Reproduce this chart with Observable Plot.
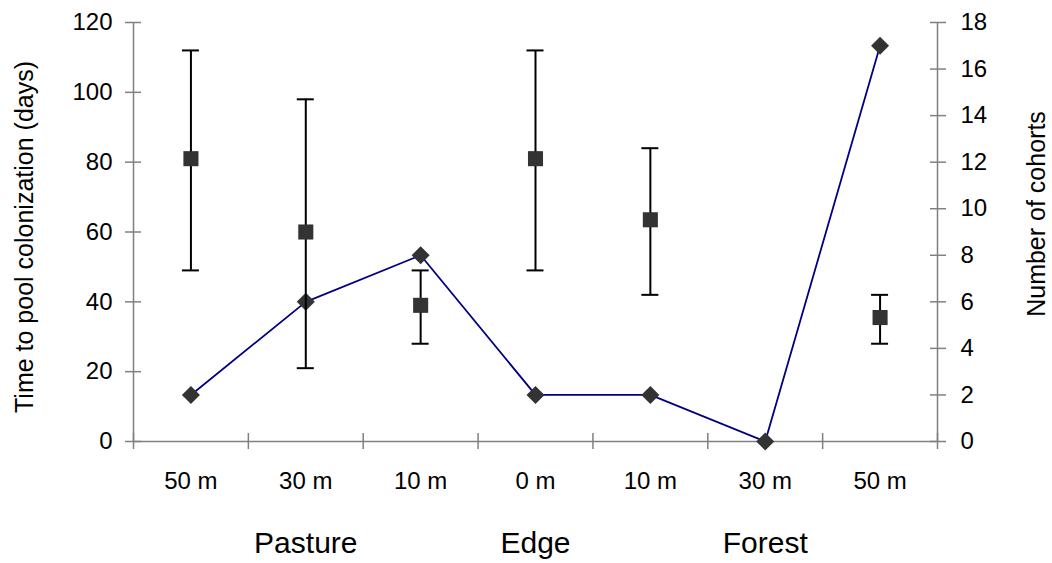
<!DOCTYPE html>
<html>
<head>
<meta charset="utf-8">
<script src="https://cdn.jsdelivr.net/npm/d3@7"></script>
<script src="https://cdn.jsdelivr.net/npm/@observablehq/plot@0.6"></script>
<style>
  body { margin: 0; background: #fff; }
</style>
</head>
<body>
<div id="chart"></div>
<script>
// Distance classes along the pasture–edge–forest transect
const distances = ["50 m", "30 m", "10 m", "0 m", "10 m", "30 m", "50 m"];
const habitats = ["Pasture", "Pasture", "Pasture", "Edge", "Forest", "Forest", "Forest"];

// Time to pool colonization (days): mean with lower / upper bars (none at forest 30 m)
const colonizationDays = [81, 60, 39, 81, 63.5, null, 35.5];
const daysLow = [49, 21, 28, 49, 42, null, 28];
const daysHigh = [112, 98, 49, 112, 84, null, 42];

// Number of cohorts (right axis)
const cohorts = [2, 6, 8, 2, 2, 0, 17];

// Habitat labels under the distance labels, centred on a distance class
const groupLabels = ["Pasture", "Edge", "Forest"];
const groupAt = [1, 3, 5];

const daysTicks = [0, 20, 40, 60, 80, 100, 120];
const cohortTicks = [0, 2, 4, 6, 8, 10, 12, 14, 16, 18];

// Cohorts share the vertical scale with days: 18 cohorts ↔ 120 days
const k = 120 / 18;

const rows = distances.map((d, i) => ({
  pos: i + 0.5,
  dist: d,
  habitat: habitats[i],
  days: colonizationDays[i],
  lo: daysLow[i],
  hi: daysHigh[i],
  cohortY: cohorts[i] * k
}));
const withDays = rows.filter(r => r.days != null);

const axisGray = "#808080";
const font = "'Liberation Sans', Arial, Helvetica, sans-serif";

const chart = Plot.plot({
  width: 1052,
  height: 563,
  marginLeft: 133,
  marginRight: 115,
  marginTop: 22,
  marginBottom: 122,
  style: { fontFamily: font, fontSize: "24px", color: "#000", background: "#fff" },
  x: { domain: [0, distances.length], axis: null },
  y: { domain: [0, 120], axis: null },
  marks: [
    // axis lines
    Plot.ruleY([0], { stroke: axisGray, strokeWidth: 1.5 }),
    Plot.ruleX([0, distances.length], { stroke: axisGray, strokeWidth: 1.5 }),

    // category boundary ticks crossing the x axis
    Plot.axisX(d3.range(distances.length + 1), {
      anchor: "bottom", tickSize: 16, dy: -8, stroke: axisGray, strokeWidth: 1.5,
      fill: "none", label: null
    }),
    // distance labels centred in each class
    Plot.axisX(rows.map(r => r.pos), {
      anchor: "bottom", tickSize: 0, tickPadding: 30, label: null,
      tickFormat: d => distances[Math.floor(d)], fontSize: 24
    }),

    // left axis: days
    Plot.axisY(daysTicks, {
      anchor: "left", tickSize: 16, dx: 8, tickPadding: 13, stroke: axisGray,
      strokeWidth: 1.5, label: null, fontSize: 24
    }),
    // right axis: cohorts
    Plot.axisY(cohortTicks.map(c => c * k), {
      anchor: "right", tickSize: 16, dx: -8, tickPadding: 15, stroke: axisGray,
      strokeWidth: 1.5, label: null, fontSize: 24,
      tickFormat: d => String(Math.round(d / k))
    }),

    // cohorts line and diamonds
    Plot.line(rows, { x: "pos", y: "cohortY", stroke: "#000080", strokeWidth: 1.8 }),
    Plot.dot(rows, { x: "pos", y: "cohortY", symbol: "square", rotate: 45, r: 7.2, fill: "#333" }),

    // colonization time error bars with caps
    Plot.ruleX(withDays, { x: "pos", y1: "lo", y2: "hi", stroke: "#000", strokeWidth: 2 }),
    Plot.ruleY(withDays, { y: "lo", x1: "pos", x2: "pos", insetLeft: -8.5, insetRight: -8.5, stroke: "#000", strokeWidth: 2 }),
    Plot.ruleY(withDays, { y: "hi", x1: "pos", x2: "pos", insetLeft: -8.5, insetRight: -8.5, stroke: "#000", strokeWidth: 2 }),
    Plot.dot(withDays, { x: "pos", y: "days", symbol: "square", r: 8.5, fill: "#333" }),

    // habitat group labels
    Plot.text(groupLabels, {
      x: (d, i) => groupAt[i] + 0.5, text: d => d, frameAnchor: "bottom",
      textAnchor: "middle", lineAnchor: "top", dy: 90, fontSize: 30, fill: "#000"
    }),

    // axis titles
    Plot.text(["Time to pool colonization (days)"], {
      text: d => d, frameAnchor: "left", rotate: -90, dx: -109, dy: 5,
      textAnchor: "middle", lineAnchor: "middle", fontSize: 25, fill: "#000"
    }),
    Plot.text(["Number of cohorts"], {
      text: d => d, frameAnchor: "right", rotate: -90, dx: 99, dy: -18,
      textAnchor: "middle", lineAnchor: "middle", fontSize: 25, fill: "#000"
    })
  ]
});

document.getElementById("chart").appendChild(chart);
</script>
</body>
</html>
